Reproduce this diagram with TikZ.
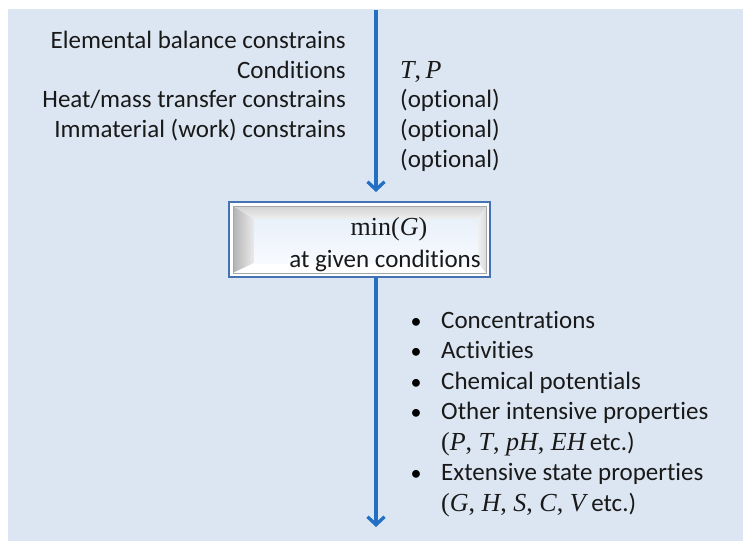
\documentclass[tikz,border=0pt]{standalone}
\usepackage{fontspec}
\setmainfont{Carlito}[Ligatures=NoCommon,RawFeature={-liga;-clig;-dlig}]
\newfontfamily\tms{Liberation Serif}
\usetikzlibrary{arrows.meta}
\definecolor{panel}{RGB}{220,230,242}
\definecolor{arrowblue}{RGB}{34,112,196}
\definecolor{boxblue}{RGB}{68,114,178}
\newcommand\mi[1]{{\tms\itshape #1}}
\newcommand\mr[1]{{\tms #1}}
\tikzset{
  flow/.style={draw=arrowblue, line width=3.3pt, -{Straight Barb[length=8pt,width=17pt]}},
  lbl/.style={inner sep=0pt, font=\fontsize{25}{30}\selectfont, text=black!90},
  mth/.style={inner sep=0pt, font=\fontsize{26}{30}\selectfont, text=black!90},
  bul/.style={inner sep=0pt, font=\fontsize{22}{30}\selectfont, text=black},
}
\begin{document}
\begin{tikzpicture}[x=1pt,y=-1pt]
\useasboundingbox (0,0) rectangle (743,541);
\fill[panel] (8,9) rectangle (743,541);

% central box (bevelled)
\node[draw=boxblue, line width=2.2pt, fill=white, minimum width=261pt, minimum height=75pt, inner sep=0pt] (box) at (359.5,239.5) {};
\fill[gray!20] (233,206) rectangle (486,273);
\shade[left color=black!30, right color=black!8] (233,206) -- (254,219) -- (254,263) -- (233,273) -- cycle;
\shade[top color=black!18, bottom color=black!6] (233,206) -- (486,206) -- (478,219) -- (254,219) -- cycle;
\shade[left color=black!6, right color=black!14] (486,206) -- (478,219) -- (478,263) -- (486,273) -- cycle;
\fill[white] (233,273) -- (254,263) -- (478,263) -- (486,273) -- cycle;
\shade[top color={rgb,255:red,232;green,240;blue,249}, bottom color={rgb,255:red,248;green,251;blue,255}] (254,219) rectangle (478,263);
\draw[black!35, line width=0.5pt] (233,206) rectangle (486,273);

\node[mth, anchor=base] (t1) at (389,235) {\mr{min(}\mi{G}\mr{)}};
\node[lbl, anchor=base] (t2) at (385,267) {at given conditions};

% arrows
\coordinate (a1s) at (376,10);
\coordinate (a1e) at (376,192);
\draw[flow] (a1s) -- (a1e);
\coordinate (a2e) at (376,527);
\draw[flow] (box.south -| a2e) -- (a2e);

% left labels
\node[lbl, anchor=base east] (l1) at (346,48) {Elemental balance constrains};
\node[lbl, anchor=base east] (l2) at (346,78) {Conditions};
\node[lbl, anchor=base east] (l3) at (346,107) {Heat/mass transfer constrains};
\node[lbl, anchor=base east] (l4) at (346,137) {Immaterial (work) constrains};

% right labels
\node[mth, anchor=base west] (r1) at (400,78) {\mi{T}\mr{,\,}\mi{P}};
\node[lbl, anchor=base west] (r2) at (400,107) {(optional)};
\node[lbl, anchor=base west] (r3) at (400,137) {(optional)};
\node[lbl, anchor=base west] (r4) at (400,167) {(optional)};

% bullet list
\foreach \i/\y in {1/328,2/358.5,3/389,4/419.5,6/480.5}{
  \node[bul, anchor=base] (b\i) at (416,\y) {•};
}
\node[lbl, anchor=base west] (o1) at (441,328) {Concentrations};
\node[lbl, anchor=base west] (o2) at (441,358.5) {Activities};
\node[lbl, anchor=base west] (o3) at (441,389) {Chemical potentials};
\node[lbl, anchor=base west] (o4) at (441,419.5) {Other intensive properties};
\node[lbl, anchor=base west] (o5) at (441,450) {{\fontsize{26}{30}\selectfont\mr{(}\mi{P}\mr{, }\mi{T}\mr{, }\mi{pH}\mr{, }\mi{EH}}\,etc.)};
\node[lbl, anchor=base west] (o6) at (441,480.5) {Extensive state properties};
\node[lbl, anchor=base west] (o7) at (441,511) {{\fontsize{26}{30}\selectfont\mr{(}\mi{G}\mr{, }\mi{H}\mr{, }\mi{S}\mr{, }\mi{C}\mr{, }\mi{V}} etc.)};
\end{tikzpicture}
\end{document}
